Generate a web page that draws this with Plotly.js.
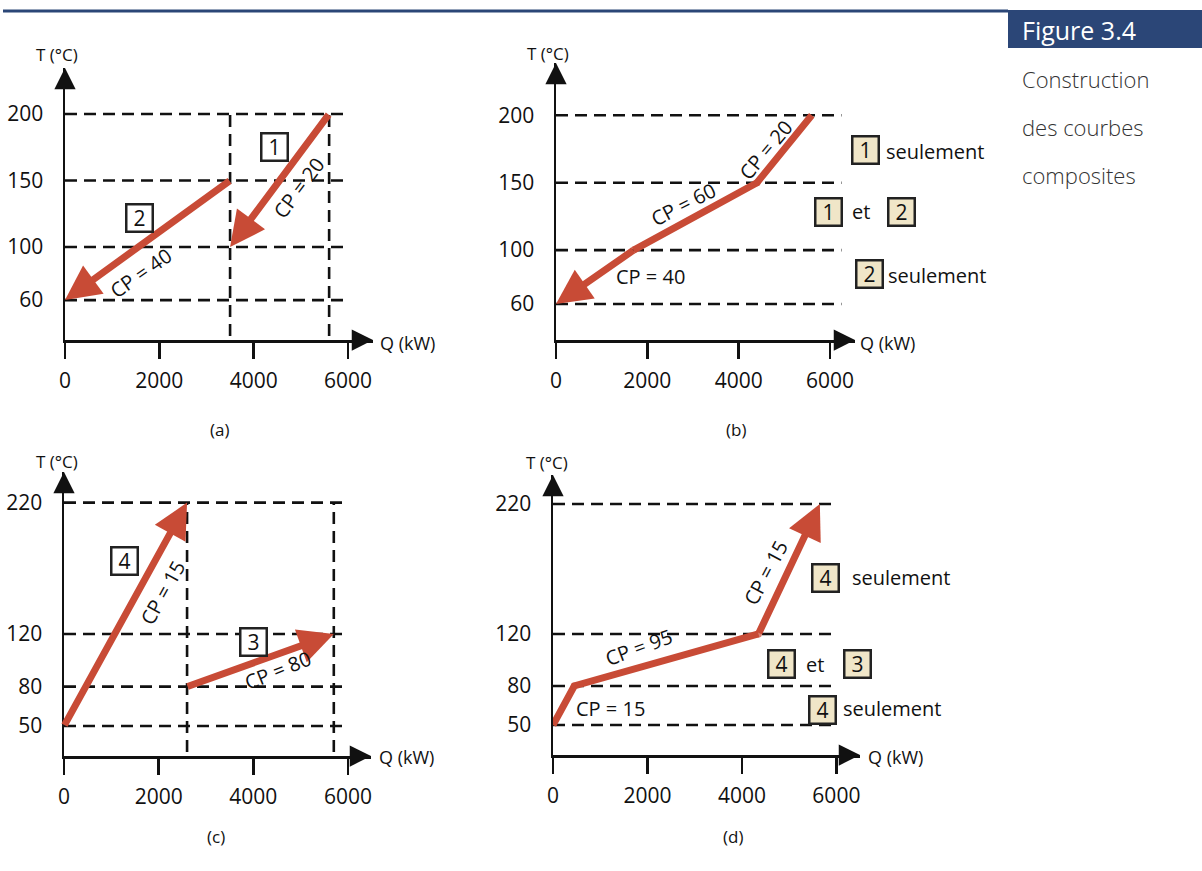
<!DOCTYPE html>
<html>
<head>
<meta charset="utf-8">
<script src="https://cdn.plot.ly/plotly-3.0.1.min.js"></script>
<style>html,body{margin:0;padding:0;background:#fff;}#chart{width:1202px;height:871px;}</style>
</head>
<body>
<div id="chart"></div>
<script>
// ---------- data ----------
const qTicks = [0, 2000, 4000, 6000];
// (a) individual hot streams
const aTicksT = [60, 100, 150, 200];
const aStream1Q = [5600, 3500], aStream1T = [200, 100];
const aStream2Q = [3500, 0],    aStream2T = [150, 60];
const aVertQ = [3500, 5600];
// (b) hot composite curve
const bTicksT = [60, 100, 150, 200];
const bCompQ = [5600, 4400, 1700, 0], bCompT = [200, 150, 100, 60];
// (c) individual cold streams
const cTicksT = [50, 80, 120, 220];
const cStream4Q = [0, 2600],    cStream4T = [50, 220];
const cStream3Q = [2600, 5700], cStream3T = [80, 120];
const cVertQ = [2600, 5700];
// (d) cold composite curve
const dTicksT = [50, 80, 120, 220];
const dCompQ = [0, 450, 4350, 5650], dCompT = [50, 80, 120, 220];

// ---------- style ----------
const W = 1202, H = 871;
const RED = '#c84b36', INK = '#111', BEIGE = '#f0e6c8', BLUE = '#2b4677';
const FONT = 'Open Sans, DejaVu Sans, sans-serif';
const DASH = '12px,7px';

const panels = [
  {id:'', dom:[65,373,68,340],  xr:[0,6530], yr:[30,234.6], ticks:aTicksT, hEnd:6000},
  {id:'2',dom:[556,855,63,340], xr:[0,6547], yr:[33.3,238.8], ticks:bTicksT, hEnd:6250},
  {id:'3',dom:[64,371,472,756], xr:[0,6486], yr:[27.2,243.3], ticks:cTicksT, hEnd:6000},
  {id:'4',dom:[553,860,475,755],xr:[0,6500], yr:[26.9,242.3], ticks:dTicksT, hEnd:6000}
];

const layout = {
  width: W, height: H, margin:{l:0,r:0,t:0,b:0},
  paper_bgcolor:'#fff', plot_bgcolor:'rgba(0,0,0,0)',
  showlegend:false, hovermode:false,
  annotations:[], shapes:[]
};
const traces = [];

function P(x, y) { return {x: x / W, y: 1 - y / H, xref:'paper', yref:'paper'}; }

panels.forEach(p => {
  const xa = 'xaxis' + p.id, ya = 'yaxis' + p.id;
  const xs = 'x' + p.id, ys = 'y' + p.id;
  layout[xa] = {
    domain:[p.dom[0]/W, p.dom[1]/W], range:p.xr, anchor: ys,
    showline:true, linewidth:2.5, linecolor:INK, mirror:false,
    ticks:'outside', ticklen:16, tickwidth:2.5, tickcolor:INK,
    tickvals:qTicks, ticktext:qTicks.map(String), ticklabelstandoff:4,
    tickfont:{family:FONT, size:21, color:INK},
    showgrid:false, zeroline:false, fixedrange:true
  };
  layout[ya] = {
    domain:[1 - p.dom[3]/H, 1 - p.dom[2]/H], range:p.yr, anchor: xs,
    showline:true, linewidth:2.5, linecolor:INK,
    ticks:'', tickvals:p.ticks, ticktext:p.ticks.map(String), ticklabelstandoff:15,
    tickfont:{family:FONT, size:21, color:INK},
    showgrid:false, zeroline:false, fixedrange:true
  };
  // horizontal dashed levels
  const hx = [], hy = [];
  p.ticks.forEach(t => { hx.push(0, p.hEnd, null); hy.push(t, t, null); });
  traces.push({type:'scatter', mode:'lines', x:hx, y:hy, xaxis:xs, yaxis:ys,
    line:{color:INK, width:2.6, dash:DASH}, hoverinfo:'skip'});
  // axis arrowheads
  layout.annotations.push({xref:xs, yref:ys, x:p.xr[1], y:p.yr[0], ax:-22, ay:0,
    showarrow:true, arrowhead:2, arrowsize:1.7, arrowwidth:2.5, arrowcolor:INK, standoff:0, text:''});
  layout.annotations.push({xref:xs, yref:ys, x:0, y:p.yr[1], ax:0, ay:22,
    showarrow:true, arrowhead:2, arrowsize:1.7, arrowwidth:2.5, arrowcolor:INK, standoff:0, text:''});
});

// vertical dashed lines
function vLines(qs, top, p, id) {
  const vx = [], vy = [];
  qs.forEach(q => { vx.push(q, q, null); vy.push(p.yr[0] + 3, top, null); });
  traces.push({type:'scatter', mode:'lines', x:vx, y:vy, xaxis:'x'+id, yaxis:'y'+id,
    line:{color:INK, width:2.6, dash:DASH}, hoverinfo:'skip'});
}
vLines(aVertQ, aTicksT[aTicksT.length-1], panels[0], '');
vLines(cVertQ, cTicksT[cTicksT.length-1], panels[2], '3');

// red stream arrows
function arrow(qs, ts, id) {
  const n = qs.length;
  if (n > 2) {
    const sz = qs.slice(0, n-1).map((_, i) => i === 0 ? 0 : 7);
    traces.push({type:'scatter', mode:'lines+markers', x:qs.slice(0, n-1), y:ts.slice(0, n-1),
      xaxis:'x'+id, yaxis:'y'+id, line:{color:RED, width:7},
      marker:{color:RED, size:sz, line:{width:0}}, hoverinfo:'skip'});
  }
  layout.annotations.push({xref:'x'+id, yref:'y'+id, axref:'x'+id, ayref:'y'+id,
    x:qs[n-1], y:ts[n-1], ax:qs[n-2], ay:ts[n-2], text:' ', font:{size:1}, borderpad:0,
    showarrow:true, arrowhead:2, arrowsize:1.0, arrowwidth:7, arrowcolor:RED, standoff:0});
}
arrow(aStream1Q, aStream1T, '');
arrow(aStream2Q, aStream2T, '');
arrow(bCompQ, bCompT, '2');
arrow(cStream4Q, cStream4T, '3');
arrow(cStream3Q, cStream3T, '3');
arrow(dCompQ, dCompT, '4');

// ---------- texts ----------
function txt(x, y, text, size, extra) {
  layout.annotations.push(Object.assign(P(x, y), {text:text, showarrow:false,
    xanchor:'center', yanchor:'middle', font:{family:FONT, size:size, color:INK}}, extra || {}));
}
function box(x, y, text, fill) {
  txt(x, y, text, 21, {bgcolor:fill, bordercolor:'#222', borderwidth:2.5, borderpad:2, width:20, height:21});
}
// axis titles
[[57,55,378,343],[548,53,858,343],[57,461,377,757],[547,462,866,757]].forEach(a => {
  txt(a[0], a[1], 'T (°C)', 17);
  txt(a[2], a[3], 'Q (kW)', 18, {xanchor:'left'});
});
// captions
txt(219, 430, '(a)', 17); txt(736, 430, '(b)', 17);
txt(216, 836, '(c)', 17); txt(733, 836, '(d)', 17);
// CP labels
txt(298, 188, 'CP = 20', 20, {textangle:-53});
txt(140, 273, 'CP = 40', 20, {textangle:-35});
txt(683, 205, 'CP = 60', 20, {textangle:-27});
txt(765, 150, 'CP = 20', 20, {textangle:-50});
txt(650, 277, 'CP = 40', 20);
txt(162, 593, 'CP = 15', 20, {textangle:-61});
txt(277, 670, 'CP = 80', 20, {textangle:-22});
txt(638, 647, 'CP = 95', 20, {textangle:-20});
txt(765, 573, 'CP = 15', 20, {textangle:-62});
txt(610, 708, 'CP = 15', 20);
// stream number boxes
box(274, 147, '1', '#fff'); box(139, 218, '2', '#fff');
box(124, 561, '4', '#fff'); box(253, 642, '3', '#fff');
box(865, 150, '1', BEIGE); txt(884, 152, 'seulement', 20, {xanchor:'left'});
box(828, 212, '1', BEIGE); txt(861, 212, 'et', 20); box(901, 212, '2', BEIGE);
box(869, 274, '2', BEIGE); txt(886, 275, 'seulement', 20, {xanchor:'left'});
box(826, 578, '4', BEIGE); txt(850, 577, 'seulement', 20, {xanchor:'left'});
box(781, 664, '4', BEIGE); txt(815, 664, 'et', 20); box(857, 664, '3', BEIGE);
box(823, 710, '4', BEIGE); txt(841, 708, 'seulement', 20, {xanchor:'left'});

// header
layout.shapes.push({type:'line', xref:'paper', yref:'paper', x0:3/W, x1:1008/W, y0:1-11/H, y1:1-11/H,
  line:{color:BLUE, width:3}});
layout.shapes.push({type:'rect', xref:'paper', yref:'paper', x0:1008/W, x1:1, y0:1-48/H, y1:1-10/H,
  line:{width:0}, fillcolor:BLUE});
txt(1020, 30, 'Figure 3.4', 25, {xanchor:'left', font:{family:FONT, size:25, color:'#fff'}});
['Construction', 'des courbes', 'composites'].forEach((s, i) => {
  txt(1020, 79 + i*48, s, 22, {xanchor:'left', font:{family:FONT, size:22, color:'#333', weight:300}});
});

Plotly.newPlot('chart', traces, layout, {staticPlot:true, displayModeBar:false});
</script>
</body>
</html>
